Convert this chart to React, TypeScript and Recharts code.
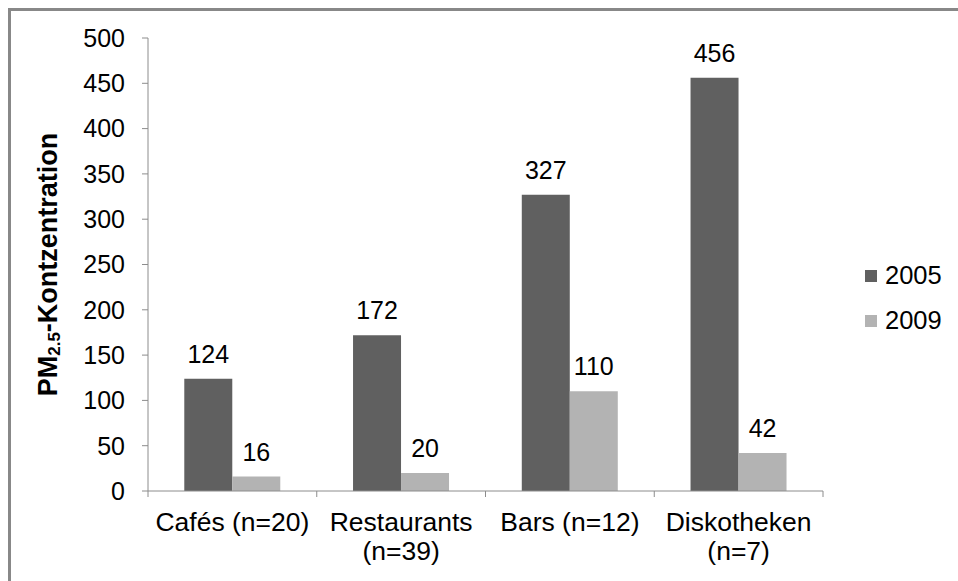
import React from 'react';
import { BarChart, Bar, XAxis, YAxis, LabelList, Legend, Label } from 'recharts';

const categories = ['Cafés (n=20)', 'Restaurants\n(n=39)', 'Bars (n=12)', 'Diskotheken\n(n=7)'];
const values2005 = [124, 172, 327, 456];
const values2009 = [16, 20, 110, 42];
const yTicks = [0, 50, 100, 150, 200, 250, 300, 350, 400, 450, 500];
const seriesNames = ['2005', '2009'];
const seriesColors = ['#606060', '#b3b3b3'];

const data = categories.map((c, i) => ({ name: c, s2005: values2005[i], s2009: values2009[i] }));

const FONT = '"Liberation Sans", Arial, sans-serif';
const AXIS_COLOR = '#8c8c8c';
const X_TICK_MARGIN = 40;

const XTick = (props: any) => {
  const { x, y, payload, index, visibleTicksCount } = props;
  const lines = String(payload.value).split('\n');
  const off = payload.offset || 0;
  const axisY = y - X_TICK_MARGIN;
  return (
    <g>
      <line x1={x - off} x2={x - off} y1={axisY} y2={axisY + 6} stroke={AXIS_COLOR} strokeWidth={1} />
      {index === visibleTicksCount - 1 && (
        <line x1={x + off} x2={x + off} y1={axisY} y2={axisY + 6} stroke={AXIS_COLOR} strokeWidth={1} />
      )}
      <text x={x} y={y} textAnchor="middle" fontFamily={FONT} fontSize={26.5} fill="#000">
        {lines.map((l, i) => (
          <tspan key={i} x={x} dy={i === 0 ? 0 : 29}>{l}</tspan>
        ))}
      </text>
    </g>
  );
};

const YLabel = (props: any) => {
  const vb = props.viewBox || {};
  const cx = vb.x + 48;
  const cy = vb.y + vb.height / 2;
  return (
    <text
      x={cx}
      y={cy}
      transform={`rotate(-90, ${cx}, ${cy})`}
      textAnchor="middle"
      dominantBaseline="central"
      fontFamily={FONT}
      fontWeight="bold"
      fontSize={27}
      fill="#000"
    >
      <tspan>PM</tspan>
      <tspan fontSize={17} dy={6}>2.5</tspan>
      <tspan dy={-6}>-Kontzentration</tspan>
    </text>
  );
};

const LegendContent = () => (
  <div style={{ fontFamily: FONT, fontSize: 25.5, color: '#000' }}>
    {seriesNames.map((n, i) => (
      <div key={n} style={{ display: 'flex', alignItems: 'center', height: 45 }}>
        <span style={{ display: 'inline-block', width: 12, height: 12, background: seriesColors[i], marginRight: 8 }} />
        <span>{n}</span>
      </div>
    ))}
  </div>
);

export default function App() {
  return (
    <div style={{ position: 'absolute', left: 0, top: 0, width: 958, height: 581, background: '#fff' }}>
      <div
        style={{
          position: 'absolute',
          left: 8,
          top: 8,
          width: 950,
          height: 573,
          borderLeft: '3px solid #888',
          borderTop: '3px solid #888',
          boxSizing: 'border-box',
        }}
      />
      <div style={{ position: 'absolute', left: 0, top: 0 }}>
        <BarChart
          width={958}
          height={581}
          data={data}
          margin={{ top: 38, right: 135, bottom: 0, left: 0 }}
          barCategoryGap="21.5%"
          barGap={0}
        >
          <XAxis
            dataKey="name"
            height={90}
            axisLine={{ stroke: AXIS_COLOR }}
            tickLine={false}
            tickSize={0}
            tickMargin={X_TICK_MARGIN}
            tick={<XTick />}
            interval={0}
          />
          <YAxis
            width={148}
            domain={[0, 500]}
            ticks={yTicks}
            interval={0}
            axisLine={{ stroke: AXIS_COLOR }}
            tickLine={{ stroke: AXIS_COLOR }}
            tickSize={6}
            tickMargin={17}
            tick={{ fontFamily: FONT, fontSize: 25, fill: '#000' }}
          >
            <Label content={<YLabel />} />
          </YAxis>
          <Legend
            layout="vertical"
            align="center"
            verticalAlign="middle"
            content={<LegendContent />}
            wrapperStyle={{ left: 865, top: 253, width: 90, height: 90 }}
          />
          <Bar dataKey="s2005" name={seriesNames[0]} fill={seriesColors[0]} isAnimationActive={false}>
            <LabelList dataKey="s2005" position="top" offset={16} fontFamily={FONT} fontSize={25} fill="#000" />
          </Bar>
          <Bar dataKey="s2009" name={seriesNames[1]} fill={seriesColors[1]} isAnimationActive={false}>
            <LabelList dataKey="s2009" position="top" offset={16} fontFamily={FONT} fontSize={25} fill="#000" />
          </Bar>
        </BarChart>
      </div>
    </div>
  );
}
